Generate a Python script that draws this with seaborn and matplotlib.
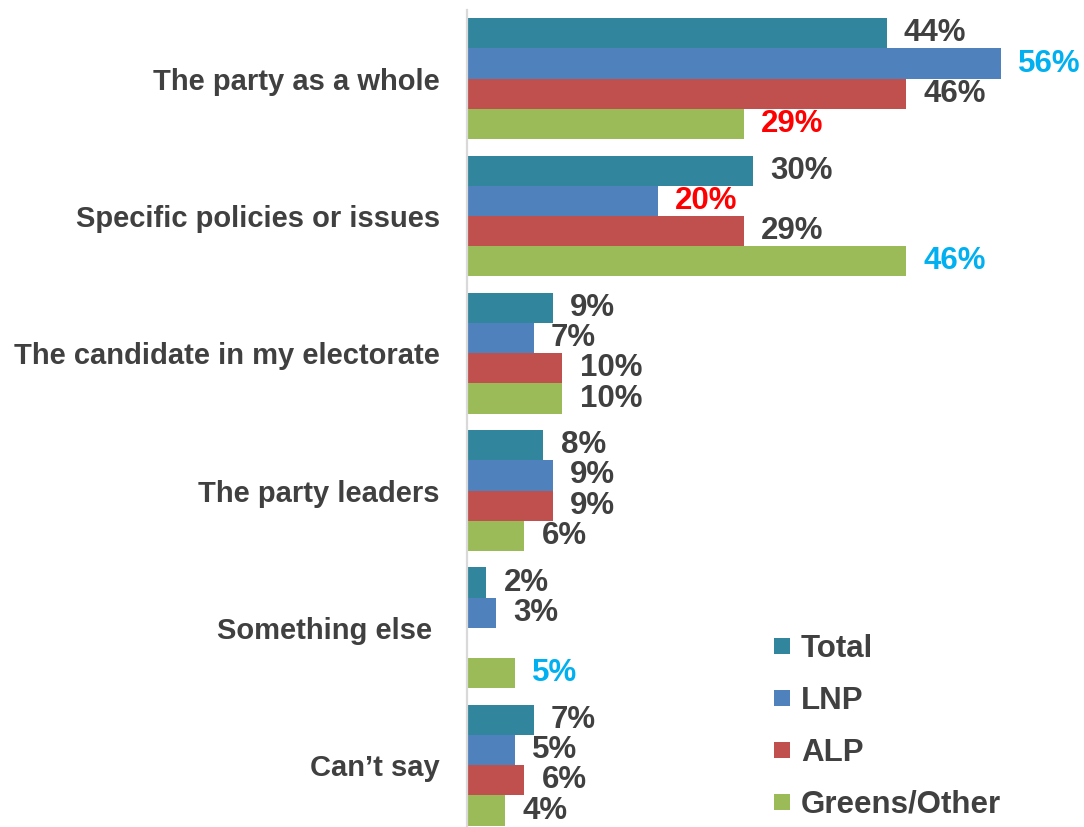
import numpy as np
import pandas as pd
import matplotlib
matplotlib.use("Agg")
import matplotlib.pyplot as plt
from matplotlib.lines import Line2D
import seaborn as sns

categories = [
    "The party as a whole",
    "Specific policies or issues",
    "The candidate in my electorate",
    "The party leaders",
    "Something else ",
    "Can\u2019t say",
]
series = ["Total", "LNP", "ALP", "Greens/Other"]
total = [44, 30, 9, 8, 2, 7]
lnp = [56, 20, 7, 9, 3, 5]
alp = [46, 29, 10, 9, np.nan, 6]
greens = [29, 46, 10, 6, 5, 4]

# highlighted labels: (category index, series index) -> colour
highlight_high = [(0, 1), (1, 3), (4, 3)]
highlight_low = [(0, 3), (1, 1)]

colors = ["#31859C", "#4F81BD", "#C0504D", "#9BBB59"]
text_color = "#404040"
cyan = "#00B0F0"
red = "#FF0000"

values = [total, lnp, alp, greens]
df = pd.DataFrame(
    [(c, s, v[i]) for s, v in zip(series, values) for i, c in enumerate(categories)],
    columns=["category", "series", "value"],
)

sns.set_theme(style="white")
plt.rcParams["font.family"] = ["Liberation Sans", "DejaVu Sans"]
plt.rcParams["font.weight"] = "bold"

fig = plt.figure(figsize=(10.84, 8.27), dpi=100)
ax = fig.add_axes([467 / 1084, 0.0, 1 - 467 / 1084, 1 - 10 / 827])

sns.barplot(
    data=df, y="category", x="value", hue="series",
    order=categories, hue_order=series, palette=colors,
    orient="h", width=0.88, dodge=True, saturation=1,
    linewidth=0, ax=ax, legend=False,
)

ax.set_xlim(0, 64.7)
ax.set_ylim(5.45, -0.5)
ax.set_xlabel("")
ax.set_ylabel("")
ax.set_xticks([])
for side in ["top", "right", "bottom"]:
    ax.spines[side].set_visible(False)
ax.spines["left"].set_color("#D9D9D9")
ax.spines["left"].set_linewidth(1.6)
ax.tick_params(axis="y", length=0, pad=19.5)
for lbl in ax.get_yticklabels():
    lbl.set_fontsize(21)
    lbl.set_fontweight("bold")
    lbl.set_color(text_color)

# value labels, matched to each bar by its category position
for si, cont in enumerate(ax.containers):
    for bar in cont:
        y = bar.get_y() + bar.get_height() / 2
        ci = int(round(y))
        v = values[si][ci]
        if v is None or np.isnan(v):
            continue
        col = text_color
        if (ci, si) in highlight_high:
            col = cyan
        elif (ci, si) in highlight_low:
            col = red
        ax.annotate(
            f"{v:.0f}%", xy=(bar.get_width(), y), xytext=(12.5, 0),
            textcoords="offset points", ha="left", va="center",
            fontsize=22.5, fontweight="bold", color=col, annotation_clip=False,
        )

handles = [
    Line2D([0], [0], marker="s", linestyle="", markersize=11.5,
           markerfacecolor=c, markeredgewidth=0)
    for c in colors
]
leg = fig.legend(
    handles, series, loc="upper left", bbox_to_anchor=(773 / 1084, 1 - 634 / 827),
    frameon=False, handlelength=0.6, handletextpad=0.3, labelspacing=0.7,
    borderaxespad=0, borderpad=0,
    prop={"size": 22.5, "weight": "bold", "family": "Liberation Sans"},
)
for t in leg.get_texts():
    t.set_color(text_color)

fig.savefig("out.png", dpi=100, facecolor="white")
